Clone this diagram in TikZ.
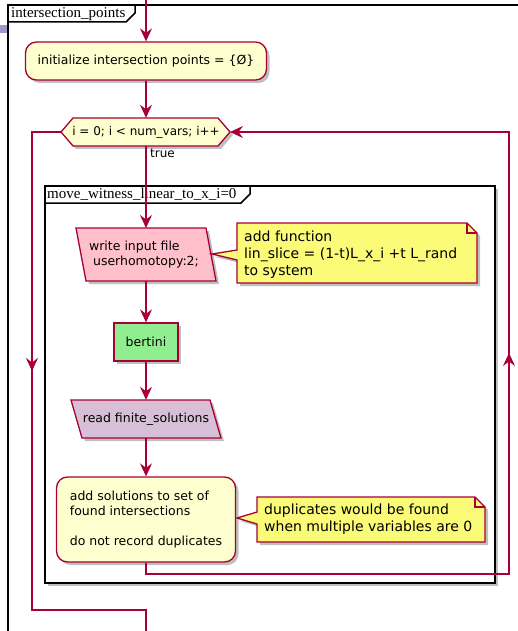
\documentclass[tikz,border=0pt]{standalone}
\usepackage{fontspec}
\setmainfont{DejaVu Sans}
\newfontfamily\labfont{Liberation Serif}
\usetikzlibrary{arrows.meta,shadows,decorations.markings}
\definecolor{lc}{HTML}{A80036}
\definecolor{actfill}{HTML}{FEFECE}
\definecolor{notefill}{HTML}{FBFB77}
\definecolor{pinkfill}{HTML}{FFC0CB}
\definecolor{greenfill}{HTML}{90EE90}
\definecolor{thistlefill}{HTML}{D8BFD8}
\definecolor{tabblue}{HTML}{9A9ACD}
\tikzset{
  >={Stealth[length=13pt,width=12pt,inset=4.5pt]},
  flow/.style={draw=lc, line width=1.1pt, ->},
  plainflow/.style={draw=lc, line width=1.1pt},
  boxline/.style={draw=lc, line width=1.3pt},
  shad/.style={drop shadow={shadow xshift=3pt, shadow yshift=-3pt, opacity=0.25, fill=black}},
  actbox/.style={boxline, fill=actfill, shad, rounded corners=11pt, font=\fontsize{12.5}{15}\selectfont, inner sep=0pt},
  txt/.style={font=\fontsize{12.5}{15}\selectfont, inner sep=0pt, align=left},
  notetxt/.style={font=\fontsize{14}{17}\selectfont, inner sep=0pt, align=left},
  framelab/.style={font=\labfont\fontsize{15}{17}\selectfont, inner sep=0pt},
  frameline/.style={draw=black, line width=1.5pt},
  midarrow/.style={draw=lc, line width=1.1pt, postaction={decorate},
    decoration={markings, mark=at position 0.5 with {\arrow{>}}}}
}
\begin{document}
\begin{tikzpicture}[x=1pt,y=-1pt]
\useasboundingbox (0,0) rectangle (517,631);
\fill[white] (0,0) rectangle (517,631);

% outer frame
\draw[frameline] (8,645) -- (8,5) -- (530,5);
\draw[frameline] (8,22) -- (126,22) -- (135,13) -- (135,5);
\node[framelab, anchor=base west] (outerlab) at (11,17.5) {intersection\_points};
\fill[tabblue] (0,25) rectangle (7,33);

% inner frame
\draw[frameline, fill=white, shad] (45,186) rectangle (495,583);
\draw[frameline] (45,203) -- (241,203) -- (250,194) -- (250,186);
\node[framelab, anchor=base west] (innerlab) at (47,198.5) {move\_witness\_linear\_to\_x\_i=0};

% initialize
\node[actbox, minimum width=241pt, minimum height=38pt] (init) at (146,61) {initialize intersection points = \{Ø\}};

% hexagon loop
\draw[boxline, fill=actfill, shad] (61,132) -- (73,118) -- (218,118) -- (230,132) -- (218,146) -- (73,146) -- cycle;
\node[font=\fontsize{12}{14}\selectfont, inner sep=0pt, minimum height=28pt] (hex) at (146,132) {i = 0; i < num\_vars; i++};
\coordinate (hexL) at (61,132);
\coordinate (hexR) at (230,132);
\node[font=\fontsize{12}{14}\selectfont, inner sep=0pt, anchor=west] (truelab) at (150,153) {true};

% write input file
\draw[boxline, fill=pinkfill, shad] (76,228) -- (206,228) -- (216,281) -- (86,281) -- cycle;
\node[txt, minimum height=53pt] (write) at (144,254.5) {write input file\\\ userhomotopy:2;};
\coordinate (writeT) at (146,228);
\coordinate (writeB) at (146,281);

% note 1
\draw[boxline, fill=notefill, shad] (237,223) -- (467,223) -- (477,233) -- (477,283) -- (237,283) -- (237,260) -- (212,254) -- (237,250) -- cycle;
\draw[boxline] (467,223) -- (467,233) -- (477,233);
\node[notetxt, anchor=west] (note1) at (244,255) {add function\\lin\_slice = (1-t)L\_x\_i +t L\_rand\\to system};

% bertini
\node[boxline, fill=greenfill, shad, minimum width=64pt, minimum height=38pt, font=\fontsize{12.5}{15}\selectfont, inner sep=0pt] (bertini) at (146,342) {bertini};

% read finite_solutions
\draw[boxline, fill=thistlefill, shad] (71,400) -- (210,400) -- (221,438) -- (82,438) -- cycle;
\node[txt, minimum height=38pt] (read) at (146,419) {read finite\_solutions};

% add solutions
\node[actbox, minimum width=179pt, minimum height=85pt, align=left] (add) at (146,519.5) {add solutions to set of\\found intersections\\[15pt]do not record duplicates};

% note 2
\draw[boxline, fill=notefill, shad] (257,497) -- (475,497) -- (485,507) -- (485,542) -- (257,542) -- (257,524) -- (237,518) -- (257,512) -- cycle;
\draw[boxline] (475,497) -- (475,507) -- (485,507);
\node[notetxt, anchor=west] (note2) at (264,519) {duplicates would be found\\when multiple variables are 0};

% connectors
\coordinate (start) at (146,0);
\coordinate (rb) at (509,574);
\coordinate (rt) at (509,132);
\coordinate (lt) at (32,132);
\coordinate (lb) at (32,610);
\coordinate (lb2) at (146,610);
\coordinate (finish) at (146,640);

\draw[flow] (start) -- (init.north);
\draw[flow] (init.south) -- (hex.north);
\draw[flow] (hex.south) -- (writeT);
\draw[flow] (writeB) -- (bertini.north);
\draw[flow] (bertini.south) -- (read.north);
\draw[flow] (read.south) -- (add.north);
\draw[flow] (add.south) -- (add.south |- rb) -- (rb) -- (rt) -- (hexR);
\path[midarrow] (rb) -- (rt);
\draw[plainflow] (hexL) -- (lt) -- (lb) -- (lb2) -- (finish);
\path[midarrow] (lt) -- (lb);
\end{tikzpicture}
\end{document}
